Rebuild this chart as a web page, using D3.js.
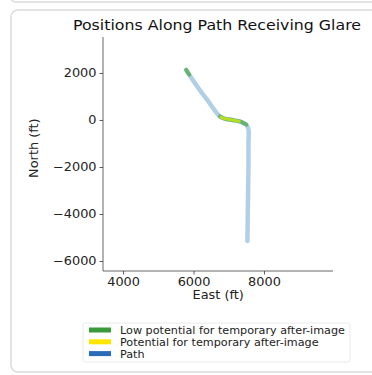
<!DOCTYPE html>
<html><head><meta charset="utf-8">
<script src="https://cdn.jsdelivr.net/npm/d3@7"></script>
<style>
html,body{margin:0;padding:0;background:#fff;}
svg{display:block;font-family:"DejaVu Sans",sans-serif;}
</style></head>
<body><svg id="c" width="372" height="375"></svg>
<script>
// Data
const title = "Positions Along Path Receiving Glare";
const xLabel = "East (ft)";
const yLabel = "North (ft)";
const xTicks = [4000, 6000, 8000];
const yTicks = [2000, 0, -2000, -4000, -6000];
const pathEast  = [5790, 5950, 6150, 6400, 6750, 6900, 7100, 7350, 7500, 7560, 7560, 7560, 7550, 7540, 7530];
const pathNorth = [2130, 1760, 1330, 830, 150, 50, 0, -80, -200, -400, -1000, -2000, -3000, -4000, -5150];
const lowEast  = [[5790, 5830, 5880], [6750, 6900, 7100, 7350, 7500]];
const lowNorth = [[2130, 2040, 1930], [150, 50, 0, -80, -200]];
const potEast  = [[6780, 6900, 7100, 7300]];
const potNorth = [[110, 50, 0, -60]];
const legendLabels = ["Low potential for temporary after-image", "Potential for temporary after-image", "Path"];
const legendColors = ["#3a9a3a", "#ffe600", "#2b6cb8"];

const svg = d3.select("#c");
// card frames
svg.append("rect").attr("x", 10).attr("y", -20).attr("width", 400).attr("height", 22).attr("rx", 6)
  .attr("fill", "none").attr("stroke", "#dcdcdc").attr("stroke-width", 1.5);
svg.append("rect").attr("x", 11).attr("y", 10).attr("width", 400).attr("height", 362).attr("rx", 7)
  .attr("fill", "#fff").attr("stroke", "#dcdcdc").attr("stroke-width", 1.5);

const x = d3.scaleLinear().domain([3430, 9960]).range([103, 333]);
const y = d3.scaleLinear().domain([-6425, 3530]).range([271, 37]);

const SX = 1.12; // horizontal stretch of text seen in reference
function stretch(sel) {
  sel.each(function () {
    const t = d3.select(this);
    const ax = +t.attr("x") || 0, ay = +t.attr("y") || 0;
    const base = t.attr("transform") || "";
    t.attr("transform", `${base} translate(${ax},${ay}) scale(${SX},1) translate(${-ax},${-ay})`);
  });
}

const g = svg.append("g");
const xAxis = g.append("g").attr("transform", "translate(0,271)")
  .call(d3.axisBottom(x).tickValues(xTicks).tickSize(3.5).tickPadding(3).tickFormat(d3.format("d")));
const yAxis = g.append("g").attr("transform", "translate(103,0)")
  .call(d3.axisLeft(y).tickValues(yTicks).tickSize(3.5).tickPadding(3).tickFormat(d => d < 0 ? "\u2212" + Math.abs(d) : d));
[xAxis, yAxis].forEach(a => {
  a.selectAll("text").attr("font-size", 11.5).attr("fill", "#222").attr("font-family", "DejaVu Sans");
  a.selectAll("line").attr("stroke", "#333").attr("stroke-width", 0.8);
  a.select(".domain").attr("stroke", "#555").attr("stroke-width", 0.9);
});
xAxis.selectAll("text").each(function () {
  d3.select(this).attr("transform", `scale(${SX},1)`).attr("x", 0);
});
yAxis.selectAll("text").each(function () {
  const t = d3.select(this); const xx = +t.attr("x");
  t.attr("transform", `translate(${xx},0) scale(${SX},1)`).attr("x", 0);
});
xAxis.select(".domain").attr("d", `M${x.range()[0]},0H${x.range()[1]}`);
yAxis.select(".domain").attr("d", `M0,${y.range()[1]}V${y.range()[0]}`);

const line = d3.line().x(d => x(d[0])).y(d => y(d[1])).curve(d3.curveCatmullRom);
const pathPts = pathEast.map((e, i) => [e, pathNorth[i]]);
g.append("path").attr("d", line(pathPts)).attr("fill", "none")
  .attr("stroke", "#a3c8e0").attr("stroke-width", 4.5).attr("stroke-linecap", "round").attr("opacity", 0.85);
lowEast.forEach((arr, k) => {
  g.append("path").attr("d", line(arr.map((e, i) => [e, lowNorth[k][i]]))).attr("fill", "none")
    .attr("stroke", "#4caa4c").attr("stroke-width", 4).attr("stroke-linecap", "round").attr("opacity", 0.75);
});
potEast.forEach((arr, k) => {
  g.append("path").attr("d", line(arr.map((e, i) => [e, potNorth[k][i]]))).attr("fill", "none")
    .attr("stroke", "#d8f000").attr("stroke-width", 3).attr("stroke-linecap", "round").attr("opacity", 0.7);
});

// title & labels
svg.append("text").attr("x", 217).attr("y", 30).attr("text-anchor", "middle")
  .attr("font-size", 13.5).attr("fill", "#111").text(title)
  .attr("transform", `translate(217,30) scale(1.17,1) translate(-217,-30)`);
stretch(svg.append("text").attr("x", x(6700)).attr("y", 299).attr("text-anchor", "middle")
  .attr("font-size", 11.5).attr("fill", "#222").text(xLabel));
svg.append("text").attr("transform", `translate(38,${y(-1200)}) rotate(-90) scale(${SX},1)`).attr("text-anchor", "middle")
  .attr("font-size", 11.5).attr("fill", "#222").text(yLabel);

// legend
const lg = svg.append("g").attr("transform", "translate(83,323)");
lg.append("rect").attr("width", 267).attr("height", 39).attr("fill", "#fff")
  .attr("stroke", "#e4e4e4").attr("stroke-width", 0.8).attr("rx", 2);
legendLabels.forEach((t, i) => {
  lg.append("rect").attr("x", 6).attr("y", 4.5 + i * 11.8).attr("width", 22).attr("height", 5)
    .attr("fill", legendColors[i]);
  stretch(lg.append("text").attr("x", 37).attr("y", 11 + i * 11.8).attr("font-size", 10)
    .attr("fill", "#222").text(t));
});
</script></body></html>
